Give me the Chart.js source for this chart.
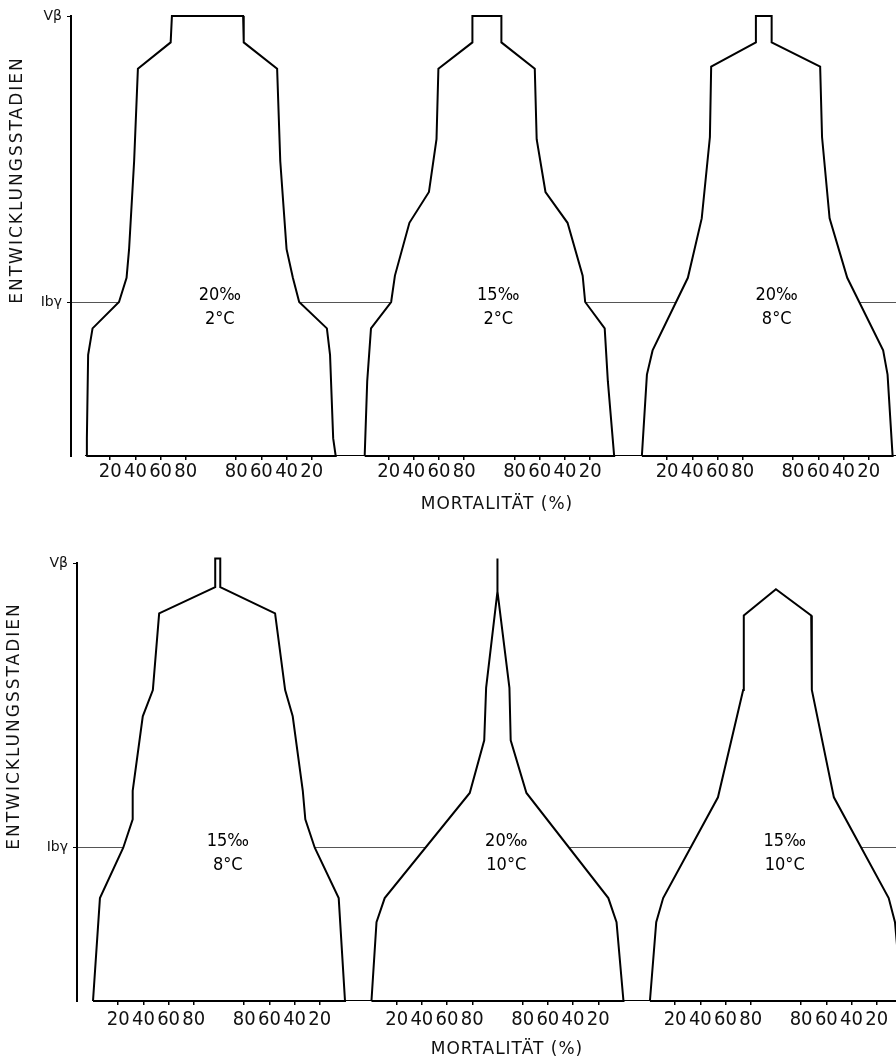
<!DOCTYPE html>
<html lang="de">
<head>
<meta charset="utf-8">
<title>Mortalität nach Entwicklungsstadien</title>
<script src="https://cdn.jsdelivr.net/npm/chart.js@4/dist/chart.umd.min.js"></script>
<style>
  html, body { margin: 0; padding: 0; background: #fff; }
  canvas { display: block; }
</style>
</head>
<body>
<canvas id="topChart" width="896" height="531"></canvas>
<canvas id="bottomChart" width="896" height="531"></canvas>
<script>
// y: Entwicklungsstadium (0 = Beginn, 100 = Vβ), x: Mortalität in % (links / rechts)
const stageTickLabels = ["Ibγ", "Vβ"];
const stageTickValues = [35, 100];
const mortTicks = [20, 40, 60, 80];

// obere Reihe
const topSalinity = ["20‰", "15‰", "20‰"];
const topTemp = ["2°C", "2°C", "8°C"];

const t1Stage = [0, 4, 23, 29, 35, 40.5, 47, 67, 88, 94, 100];
const t1Left  = [1, 1.5, 2.5, 6, 27, 33, 35, 39, 42, 68, 69];
const t1Right = [1, 3, 5.5, 8, 30, 35, 40, 45, 47.5, 74, 74.5];

const t2Stage = [0, 17, 29, 35, 41, 53, 60, 72, 88, 94, 100];
const t2Left  = [1, 3, 6, 22, 25, 36.5, 52, 58, 59.5, 86.5, 86.5];
const t2Right = [1, 6, 8.5, 24, 26, 38, 55.5, 62.5, 64, 90.5, 90.5];

const t3Stage = [0, 18.5, 24, 40.5, 54, 72.5, 88.5, 94, 100];
const t3Left  = [0, 4, 8.5, 36.5, 47.5, 54, 55, 90.5, 90.5];
const t3Right = [1, 5, 8.5, 37, 51, 57, 58.5, 97, 97];

// untere Reihe
const bottomSalinity = ["15‰", "20‰", "15‰"];
const bottomTemp = ["8°C", "10°C", "10°C"];

const b1Stage = [0, 23.5, 35, 41.5, 48, 65, 71, 88.5, 94.5, 101];
const b1Left  = [0, 5.5, 24, 31.5, 31.5, 39.5, 47.5, 52.5, 97, 97];
const b1Right = [0, 5, 24, 31.5, 33.5, 41.5, 47.5, 55.5, 99, 99];

const b2Stage = [0, 18, 23.5, 47.5, 59.5, 71.5, 93.5, 101];
const b2Left  = [0, 4, 10.5, 78, 89.5, 91, 100, 100];
const b2Right = [0, 5.5, 12, 77, 89.5, 90.5, 100, 100];

const b3Stage = [0, 18, 23.5, 46.5, 71, 88, 94];
const b3Left  = [0, 5, 10.5, 54, 74, 74.5, 100];
const b3Right = [0, 5.5, 10.5, 54, 71.5, 72, 100];

const KITE_WIDTH = 200; // 100 % links + 100 % rechts
const KITE_STEP = 221;
const LABEL_SHIFT = 7;
const LABEL_Y = [36.5, 31];

const TICK_FONT = '"Liberation Sans Narrow", "DejaVu Sans Condensed", "Roboto Condensed", Roboto, sans-serif';
const LABEL_FONT = '"DejaVu Sans Condensed", "Liberation Sans Narrow", Roboto, sans-serif';
const TITLE_FONT = '"DejaVu Sans", Roboto, sans-serif';

function kitePoints(stage, left, right, origin) {
  const pts = [];
  for (let i = 0; i < stage.length; i++) {
    pts.push({ x: origin + left[i], y: stage[i] });
  }
  for (let i = stage.length - 1; i >= 0; i--) {
    pts.push({ x: origin + KITE_WIDTH - right[i], y: stage[i] });
  }
  pts.push(pts[0]);
  return pts;
}

function makeTextPlugin(kites, origins, layout) {
  return {
    id: "kiteText",
    afterDatasetsDraw(chart) {
      const ctx = chart.ctx;
      const xs = chart.scales.x;
      const ys = chart.scales.y;
      ctx.save();
      ctx.fillStyle = "#000";
      ctx.textAlign = "center";
      ctx.textBaseline = "middle";

      ctx.font = "18px " + LABEL_FONT;
      for (let i = 0; i < kites.length; i++) {
        const cx = xs.getPixelForValue(origins[i] + KITE_WIDTH / 2 + LABEL_SHIFT);
        ctx.fillText(kites[i].salinity, cx, ys.getPixelForValue(LABEL_Y[0]));
        ctx.fillText(kites[i].temp, cx, ys.getPixelForValue(LABEL_Y[1]));
      }

      ctx.fillStyle = "#111";
      ctx.font = "17px " + TITLE_FONT;
      ctx.letterSpacing = "1px";
      ctx.fillText("MORTALITÄT (%)", layout.xTitle[0], layout.xTitle[1]);

      ctx.letterSpacing = "2px";
      ctx.translate(layout.yTitle[0], layout.yTitle[1]);
      ctx.rotate(-Math.PI / 2);
      ctx.fillText("ENTWICKLUNGSSTADIEN", 0, 0);
      ctx.restore();
    },
  };
}

function createKiteChart(canvasId, kites, layout) {
  const origins = kites.map((k, i) => layout.firstOrigin + i * KITE_STEP);

  const tickValues = [];
  const tickLabels = [];
  origins.forEach((o) => {
    mortTicks.forEach((m) => { tickValues.push(o + m); tickLabels.push(String(m)); });
    mortTicks.slice().reverse().forEach((m) => { tickValues.push(o + KITE_WIDTH - m); tickLabels.push(String(m)); });
  });

  const datasets = kites.map((k, i) => ({
    data: kitePoints(k.stage, k.left, k.right, origins[i]),
    borderColor: "#000",
    borderWidth: 2,
    backgroundColor: "#fff",
    fill: "shape",
    pointRadius: 0,
    tension: 0,
    clip: false,
  }));

  // Grundlinie
  datasets.push({
    data: [{ x: origins[0], y: 0 }, { x: layout.xMax, y: 0 }],
    borderColor: "#000",
    borderWidth: 2,
    fill: false,
    pointRadius: 0,
  });

  return new Chart(document.getElementById(canvasId).getContext("2d"), {
    type: "line",
    data: { datasets },
    plugins: [makeTextPlugin(kites, origins, layout)],
    options: {
      responsive: false,
      animation: false,
      events: [],
      layout: { padding: { top: layout.top, left: 0, right: 0, bottom: 0 } },
      plugins: {
        legend: { display: false },
        tooltip: { enabled: false },
      },
      scales: {
        x: {
          type: "linear",
          min: 0,
          max: layout.xMax,
          border: { display: false },
          grid: {
            drawOnChartArea: false,
            drawTicks: true,
            tickLength: 4,
            color: "#000",
            lineWidth: 1.5,
          },
          ticks: {
            autoSkip: false,
            maxRotation: 0,
            padding: layout.xTickPadding,
            color: "#111",
            font: { family: TICK_FONT, size: 20 },
            callback: (value, index) => tickLabels[index],
          },
          afterBuildTicks: (scale) => {
            scale.ticks = tickValues.map((v) => ({ value: v }));
          },
          afterFit: (scale) => {
            scale.height = layout.xAxisHeight;
          },
        },
        y: {
          type: "linear",
          min: 0,
          max: 100,
          border: { display: true, color: "#000", width: 2 },
          grid: {
            color: (c) => (c.tick && c.tick.value === stageTickValues[0] ? "#555" : "rgba(0,0,0,0)"),
            lineWidth: 1,
            tickColor: "#000",
            tickLength: 4,
          },
          ticks: {
            padding: 5,
            color: "#111",
            font: { family: TITLE_FONT, size: 14 },
            callback: (value, index) => stageTickLabels[index],
          },
          afterBuildTicks: (scale) => {
            scale.ticks = stageTickValues.map((v) => ({ value: v }));
          },
          afterFit: (scale) => {
            scale.width = layout.yAxisWidth;
          },
        },
      },
    },
  });
}

const topKites = [
  { stage: t1Stage, left: t1Left, right: t1Right, salinity: topSalinity[0], temp: topTemp[0] },
  { stage: t2Stage, left: t2Left, right: t2Right, salinity: topSalinity[1], temp: topTemp[1] },
  { stage: t3Stage, left: t3Left, right: t3Right, salinity: topSalinity[2], temp: topTemp[2] },
];

const bottomKites = [
  { stage: b1Stage, left: b1Left, right: b1Right, salinity: bottomSalinity[0], temp: bottomTemp[0] },
  { stage: b2Stage, left: b2Left, right: b2Right, salinity: bottomSalinity[1], temp: bottomTemp[1] },
  { stage: b3Stage, left: b3Left, right: b3Right, salinity: bottomSalinity[2], temp: bottomTemp[2] },
];

createKiteChart("topChart", topKites, {
  top: 16, yAxisWidth: 71, xAxisHeight: 75, xTickPadding: 0,
  xMax: 654.8, firstOrigin: 11.1,
  yTitle: [18, 180], xTitle: [497, 505],
});

createKiteChart("bottomChart", bottomKites, {
  top: 32, yAxisWidth: 77, xAxisHeight: 61, xTickPadding: 3,
  xMax: 650, firstOrigin: 12.7,
  yTitle: [15, 195], xTitle: [507, 519],
});
</script>
</body>
</html>
